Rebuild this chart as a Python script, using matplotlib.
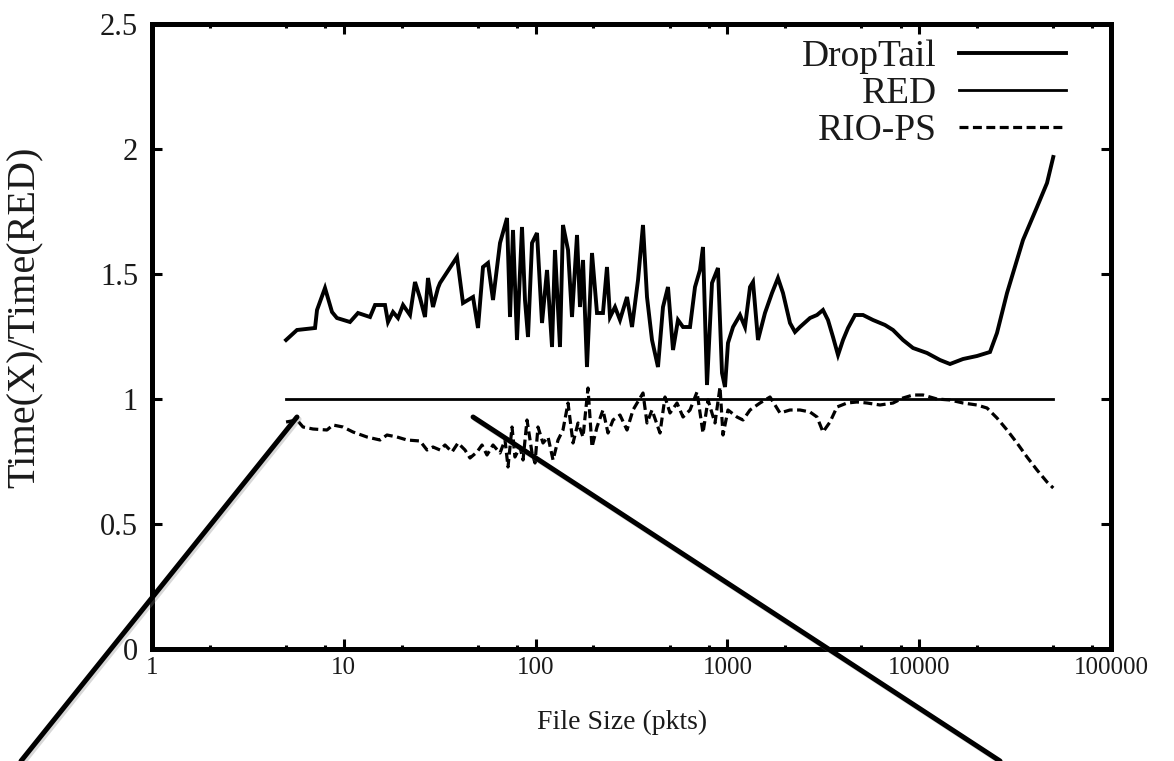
import matplotlib
matplotlib.use("Agg")
import matplotlib.pyplot as plt
import matplotlib.patheffects as pe
from matplotlib.patches import ConnectionPatch
from matplotlib.ticker import LogLocator, FixedLocator, NullFormatter, FixedFormatter

# ---------------- data ----------------
droptail_x = [5.0, 5.7, 7.08, 7.25, 7.98, 8.68, 9.21, 10.77, 11.86, 13.7, 14.55, 16.4, 17.0, 18.05,
              19.17, 20.36, 22.14, 23.51, 24.97, 26.51, 27.48, 29.18, 30.98, 31.74, 38.92, 41.83,
              47.17, 50.08, 53.18, 56.46, 59.97, 65.23, 70.95, 73.55, 76.24, 79.98, 84.93, 88.04,
              91.29, 95.8, 101.7, 108.0, 114.7, 121.8, 126.2, 134.0, 138.9, 147.6, 154.8, 164.4,
              170.4, 176.7, 185.3, 196.8, 209.0, 224.5, 235.6, 244.3, 259.4, 275.4, 299.6, 318.2,
              342.0, 363.0, 380.9, 404.5, 434.6, 461.5, 490.1, 520.5, 552.6, 586.9, 638.3, 677.8,
              719.5, 746.0, 782.7, 831.2, 893.3, 937.2, 971.6, 1007, 1070, 1163, 1235, 1312, 1360,
              1444, 1570, 1708, 1835, 1949, 2120, 2251, 2390, 2696, 2932, 3150, 3345, 3553, 3773,
              4007, 4255, 4628, 5093, 5742, 6633, 7302, 8233, 9284, 10984, 12833, 14475, 16925,
              20014, 23394, 25441, 28700, 34770, 41140, 46390, 50000]
droptail_y = [1.236, 1.276, 1.284, 1.356, 1.444, 1.348, 1.324, 1.308, 1.344, 1.328, 1.376, 1.376,
              1.308, 1.348, 1.324, 1.376, 1.336, 1.468, 1.404, 1.328, 1.484, 1.368, 1.444, 1.464,
              1.568, 1.384, 1.408, 1.284, 1.528, 1.544, 1.396, 1.624, 1.724, 1.328, 1.676, 1.236,
              1.688, 1.396, 1.248, 1.624, 1.664, 1.304, 1.516, 1.208, 1.596, 1.208, 1.696, 1.596,
              1.328, 1.656, 1.368, 1.556, 1.128, 1.584, 1.344, 1.344, 1.528, 1.328, 1.368, 1.316,
              1.408, 1.288, 1.476, 1.696, 1.408, 1.236, 1.128, 1.368, 1.448, 1.196, 1.316, 1.288,
              1.288, 1.448, 1.516, 1.608, 1.056, 1.464, 1.524, 1.104, 1.048, 1.224, 1.288, 1.336,
              1.288, 1.448, 1.468, 1.236, 1.344, 1.424, 1.484, 1.424, 1.304, 1.268, 1.288, 1.324,
              1.336, 1.356, 1.316, 1.248, 1.176, 1.236, 1.284, 1.336, 1.336, 1.316, 1.296, 1.276,
              1.236, 1.204, 1.184, 1.156, 1.14, 1.16, 1.172, 1.188, 1.264, 1.424, 1.636, 1.768,
              1.864, 1.968]

red_x = [5.0, 50000]
red_y = [1.0, 1.0]

riops_x = [5.0, 5.7, 6.13, 6.91, 8.17, 8.78, 9.9, 11.17, 13.21, 15.44, 16.8, 18.94, 21.36, 24.97,
           27.16, 29.18, 31.74, 33.7, 36.66, 39.39, 42.85, 45.5, 49.49, 52.55, 55.79, 59.97, 65.23,
           69.27, 71.81, 75.34, 78.07, 82.93, 86.0, 90.2, 95.8, 99.3, 102.9, 109.3, 116.1, 123.3,
           130.9, 138.9, 147.6, 156.7, 166.4, 176.7, 187.6, 196.8, 209.0, 224.5, 238.5, 253.3,
           275.4, 299.6, 322.0, 363.0, 380.9, 404.5, 445.2, 472.8, 502.0, 546.0, 586.9, 638.3,
           694.3, 746.0, 792.3, 861.6, 915.0, 948.6, 1007, 1122, 1206, 1312, 1479, 1668, 1880,
           2120, 2390, 2696, 2932, 3150, 3427, 3728, 4204, 4740, 5344, 6246, 7302, 8233, 9284,
           10467, 12380, 14475, 16925, 20014, 22570, 25441, 28700, 32350, 36480, 41140, 46390, 50000]
riops_y = [0.908, 0.916, 0.888, 0.88, 0.876, 0.896, 0.888, 0.868, 0.848, 0.836, 0.856, 0.848, 0.836,
           0.832, 0.796, 0.808, 0.796, 0.816, 0.788, 0.824, 0.796, 0.764, 0.788, 0.816, 0.776, 0.816,
           0.784, 0.836, 0.728, 0.888, 0.768, 0.808, 0.756, 0.916, 0.784, 0.744, 0.888, 0.824, 0.848,
           0.756, 0.836, 0.876, 0.984, 0.824, 0.904, 0.848, 1.044, 0.808, 0.888, 0.956, 0.864, 0.916,
           0.936, 0.876, 0.956, 1.024, 0.904, 0.956, 0.864, 1.008, 0.944, 0.984, 0.928, 0.956, 1.028,
           0.864, 0.996, 0.904, 1.048, 0.856, 0.956, 0.928, 0.916, 0.956, 0.984, 1.008, 0.944, 0.956,
           0.956, 0.948, 0.928, 0.868, 0.908, 0.968, 0.984, 0.988, 0.984, 0.976, 0.984, 1.004, 1.016,
           1.016, 1.0, 0.996, 0.984, 0.976, 0.964, 0.924, 0.876, 0.824, 0.768, 0.716, 0.668, 0.644]

x_ticks = [1, 10, 100, 1000, 10000, 100000]
x_tick_labels = ["1", "10", "100", "1000", "10000", "100000"]
y_ticks = [0, 0.5, 1, 1.5, 2, 2.5]
y_tick_labels = ["0", "0.5", "1", "1.5", "2", "2.5"]
series_labels = ["DropTail", "RED", "RIO-PS"]
x_label = "File Size (pkts)"
y_label = "Time(X)/Time(RED)"

# callout line anchors (data coords of the upper ends)
callout_left = (5.7, 0.928)
callout_right = (47.2, 0.928)

# ---------------- figure ----------------
W, H = 1174, 761
fig = plt.figure(figsize=(W / 100, H / 100), dpi=100)
ax = fig.add_axes([152 / W, 1 - 649 / H, (1111 - 152) / W, (649 - 24) / H])
serif = "Liberation Serif"
txt_col = "#1a1a1a"

ax.plot(droptail_x, droptail_y, color="black", lw=2.8, label=series_labels[0],
        solid_joinstyle="miter")
ax.plot(red_x, red_y, color="black", lw=2.0, label=series_labels[1])
ax.plot(riops_x, riops_y, color="black", lw=2.3, dashes=(2.8, 1.4), label=series_labels[2])

ax.set_xscale("log")
ax.set_xlim(1, 100000)
ax.set_ylim(0, 2.5)

ax.xaxis.set_major_locator(FixedLocator(x_ticks))
ax.xaxis.set_major_formatter(FixedFormatter(x_tick_labels))
ax.xaxis.set_minor_locator(LogLocator(base=10, subs=(2, 5, 8)))
ax.xaxis.set_minor_formatter(NullFormatter())
ax.yaxis.set_major_locator(FixedLocator(y_ticks))
ax.yaxis.set_major_formatter(FixedFormatter(y_tick_labels))

for sp in ax.spines.values():
    sp.set_linewidth(3.6)

ax.tick_params(which="major", direction="in", length=7, width=2.2, top=True, right=True,
               colors="black", labelcolor=txt_col)
ax.tick_params(which="minor", direction="in", length=3, width=2.2, top=True, right=True)
ax.tick_params(axis="x", which="major", pad=6, labelsize=18)
ax.tick_params(axis="y", which="major", pad=10, labelsize=22)
for lab in ax.get_xticklabels() + ax.get_yticklabels():
    lab.set_fontfamily(serif)

ax.set_xlabel(x_label, fontsize=20, family=serif, color=txt_col)
ax.xaxis.set_label_coords(0.49, -0.097)
ax.set_ylabel(y_label, fontsize=29, family=serif, color=txt_col)
ax.yaxis.set_label_coords(-0.113, 0.53)

leg = ax.legend(loc="upper right", bbox_to_anchor=(0.953, 0.975), frameon=False,
                markerfirst=False, prop={"family": serif, "size": 27},
                handlelength=2.85, handletextpad=0.6, labelspacing=0.06, borderpad=0,
                borderaxespad=0)
for t in leg.get_texts():
    t.set_color(txt_col)

# callout lines running out of the plot
shadow = [pe.SimpleLineShadow(offset=(1.5, -1.5), shadow_color="gray", alpha=0.3), pe.Normal()]
for anchor, end in ((callout_left, (21 / W, 0.0)), (callout_right, (1000 / W, 0.0))):
    cp = ConnectionPatch(xyA=anchor, coordsA=ax.transData, xyB=end, coordsB=fig.transFigure,
                         color="black", lw=3.6, clip_on=False, path_effects=shadow)
    fig.add_artist(cp)

fig.savefig("out.png", dpi=100)
